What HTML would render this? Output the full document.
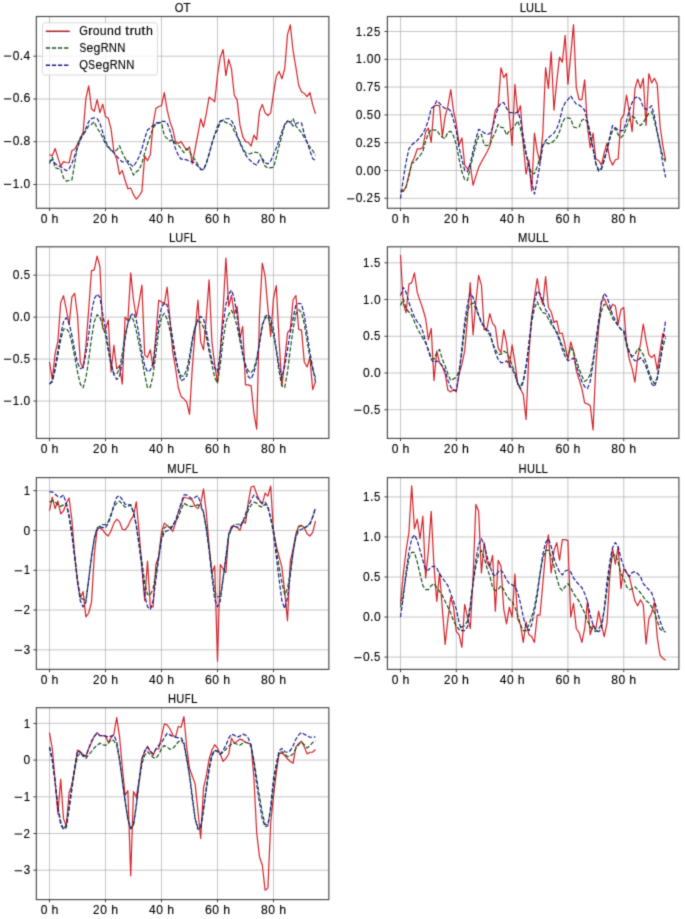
<!DOCTYPE html>
<html><head><meta charset="utf-8"><style>
html,body{margin:0;padding:0;background:#fff;}
svg{display:block;font-family:"Liberation Sans",sans-serif;}
.gr{stroke:#b8b8b8;stroke-width:0.8;}
.sp{fill:none;stroke:#484848;stroke-width:1.15;}
.tk{stroke:#404040;stroke-width:1.0;}
</style></head><body>
<svg width="685" height="919" viewBox="0 0 685 919">
<rect width="685" height="919" fill="#fff"/>
<defs><clipPath id="c0"><rect x="36.2" y="16.5" width="292.6" height="191.8"/></clipPath><clipPath id="c1"><rect x="387.25" y="16.5" width="291.6" height="191.8"/></clipPath><clipPath id="c2"><rect x="36.2" y="246.8" width="292.6" height="191.59999999999997"/></clipPath><clipPath id="c3"><rect x="387.25" y="246.8" width="291.6" height="191.59999999999997"/></clipPath><clipPath id="c4"><rect x="36.2" y="477.6" width="292.6" height="191.79999999999995"/></clipPath><clipPath id="c5"><rect x="387.25" y="477.6" width="291.6" height="191.79999999999995"/></clipPath><clipPath id="c6"><rect x="36.2" y="707.7" width="292.6" height="191.89999999999998"/></clipPath><filter id="bl" color-interpolation-filters="sRGB" x="0" y="0" width="685" height="919" filterUnits="userSpaceOnUse"><feConvolveMatrix order="3" kernelMatrix="0.02250 0.10500 0.02250 0.10500 0.49000 0.10500 0.02250 0.10500 0.02250" divisor="1" edgeMode="none"/></filter></defs>
<g filter="url(#bl)"><line x1="49.50" y1="16.5" x2="49.50" y2="208.3" class="gr"/><line x1="105.50" y1="16.5" x2="105.50" y2="208.3" class="gr"/><line x1="161.50" y1="16.5" x2="161.50" y2="208.3" class="gr"/><line x1="217.50" y1="16.5" x2="217.50" y2="208.3" class="gr"/><line x1="273.50" y1="16.5" x2="273.50" y2="208.3" class="gr"/><line x1="36.2" y1="56.20" x2="328.8" y2="56.20" class="gr"/><line x1="36.2" y1="99.00" x2="328.8" y2="99.00" class="gr"/><line x1="36.2" y1="141.70" x2="328.8" y2="141.70" class="gr"/><line x1="36.2" y1="184.50" x2="328.8" y2="184.50" class="gr"/><g clip-path="url(#c0)"><polyline points="49.50,154.67 52.30,155.72 55.10,148.54 57.90,157.68 60.70,166.16 63.50,161.59 66.30,162.51 69.10,162.90 71.90,150.50 74.70,149.19 77.50,143.97 80.30,138.75 83.10,132.22 85.90,98.28 88.70,85.87 91.50,108.72 94.30,111.33 97.10,99.58 99.90,112.64 102.70,104.15 105.50,116.55 108.30,118.29 111.10,129.39 113.90,151.58 116.70,159.41 119.50,174.43 122.30,170.51 125.10,180.30 127.90,188.79 130.70,188.13 133.50,194.66 136.30,199.23 139.10,195.97 141.90,191.40 144.70,156.15 147.50,160.72 150.30,154.84 153.10,124.16 155.90,108.50 158.70,106.54 161.50,105.69 164.30,92.64 167.10,109.61 169.90,121.36 172.70,129.19 175.50,141.59 178.30,143.55 181.10,141.59 183.90,146.16 186.70,150.08 189.50,146.81 192.30,163.79 195.10,148.77 197.90,134.41 200.70,118.75 203.50,127.23 206.30,113.52 209.10,97.21 211.90,99.16 214.70,101.78 217.50,75.03 220.30,57.40 223.10,49.57 225.90,75.68 228.70,59.36 231.50,69.15 234.30,95.26 237.10,99.83 239.90,124.63 242.70,136.38 245.50,141.61 248.30,142.26 251.10,146.17 253.90,135.08 256.70,139.65 259.50,111.58 262.30,104.40 265.10,112.89 267.90,115.50 270.70,112.89 273.50,93.41 276.30,76.28 279.10,71.39 281.90,78.73 284.70,68.94 287.50,34.68 290.30,24.89 293.10,51.00 295.90,67.31 298.70,85.25 301.50,91.78 304.30,93.41 307.10,96.67 309.90,92.59 312.70,104.83 315.50,113.80" fill="none" stroke="#d22228" stroke-width="1.2" stroke-linejoin="round"/><polyline points="49.50,163.55 52.30,157.02 55.10,167.47 57.90,168.77 60.70,168.77 63.50,177.91 66.30,181.17 69.10,180.52 71.90,179.87 74.70,163.55 77.50,145.27 80.30,137.44 83.10,134.83 85.90,130.91 88.70,125.69 91.50,124.39 94.30,121.78 97.10,128.30 99.90,132.22 102.70,137.44 105.50,143.97 108.30,147.66 111.10,150.27 113.90,151.58 116.70,150.27 119.50,145.70 122.30,152.89 125.10,158.11 127.90,163.33 130.70,168.55 133.50,175.08 136.30,171.81 139.10,169.86 141.90,163.33 144.70,152.89 147.50,143.75 150.30,135.91 153.10,128.08 155.90,124.16 158.70,122.86 161.50,122.66 164.30,135.72 167.10,138.33 169.90,140.94 172.70,139.63 175.50,143.55 178.30,144.86 181.10,148.77 183.90,152.69 186.70,148.77 189.50,151.38 192.30,156.61 195.10,159.87 197.90,164.44 200.70,169.01 203.50,169.66 206.30,163.79 209.10,153.99 211.90,143.55 214.70,135.07 217.50,125.94 220.30,120.72 223.10,120.72 225.90,122.68 228.70,123.33 231.50,125.29 234.30,131.16 237.10,136.38 239.90,141.61 242.70,148.13 245.50,152.70 248.30,154.01 251.10,153.36 253.90,152.05 256.70,152.48 259.50,153.07 262.30,159.78 265.10,166.20 267.90,167.96 270.70,167.66 273.50,167.37 276.30,157.45 279.10,145.77 281.90,135.84 284.70,125.22 287.50,121.14 290.30,122.77 293.10,118.69 295.90,126.04 298.70,129.30 301.50,132.56 304.30,137.46 307.10,142.35 309.90,147.24 312.70,150.51 315.50,155.40" fill="none" stroke="#125212" stroke-width="1.2" stroke-dasharray="4.25 1.85" stroke-linejoin="round"/><polyline points="49.50,160.94 52.30,159.63 55.10,163.55 57.90,165.51 60.70,166.81 63.50,168.77 66.30,170.73 69.10,168.77 71.90,163.55 74.70,155.72 77.50,147.89 80.30,140.05 83.10,134.83 85.90,128.30 88.70,121.78 91.50,118.51 94.30,117.86 97.10,118.51 99.90,123.08 102.70,132.22 105.50,141.36 108.30,146.36 111.10,150.27 113.90,152.89 116.70,156.15 119.50,159.41 122.30,162.02 125.10,161.37 127.90,160.72 130.70,164.63 133.50,166.59 136.30,162.02 139.10,156.80 141.90,148.97 144.70,138.52 147.50,130.04 150.30,128.08 153.10,125.47 155.90,122.86 158.70,122.86 161.50,121.36 164.30,121.36 167.10,122.66 169.90,130.50 172.70,139.63 175.50,148.77 178.30,155.30 181.10,159.22 183.90,159.22 186.70,159.87 189.50,161.17 192.30,161.83 195.10,163.13 197.90,166.40 200.70,169.66 203.50,169.66 206.30,163.13 209.10,153.99 211.90,143.55 214.70,134.41 217.50,129.86 220.30,122.02 223.10,120.07 225.90,118.76 228.70,118.76 231.50,120.72 234.30,125.29 237.10,135.08 239.90,142.91 242.70,149.44 245.50,154.66 248.30,158.58 251.10,161.19 253.90,163.80 256.70,165.04 259.50,159.78 262.30,158.61 265.10,162.70 267.90,163.87 270.70,160.95 273.50,154.53 276.30,148.10 279.10,140.51 281.90,131.75 284.70,124.40 287.50,121.14 290.30,121.96 293.10,126.04 295.90,123.59 298.70,122.77 301.50,122.77 304.30,134.19 307.10,142.35 309.90,150.51 312.70,158.66 315.50,160.29" fill="none" stroke="#1a1a90" stroke-width="1.2" stroke-dasharray="4.25 1.85" stroke-linejoin="round"/></g><rect x="36.35" y="16.5" width="292.50" height="191.8" class="sp"/><line x1="49.50" y1="208.3" x2="49.50" y2="211.10000000000002" class="tk"/><g font-size="12.0" fill="#000" stroke="#000" stroke-width="0.12"><text transform="translate(40.73 222.60) scale(1.001 1)">0</text><text transform="translate(51.50 222.60) scale(1.031 1)">h</text></g><line x1="105.50" y1="208.3" x2="105.50" y2="211.10000000000002" class="tk"/><g font-size="12.0" fill="#000" stroke="#000" stroke-width="0.12"><text transform="translate(93.07 222.60) scale(0.965 1)">2</text><text transform="translate(100.36 222.60) scale(1.001 1)">0</text><text transform="translate(111.13 222.60) scale(1.031 1)">h</text></g><line x1="161.50" y1="208.3" x2="161.50" y2="211.10000000000002" class="tk"/><g font-size="12.0" fill="#000" stroke="#000" stroke-width="0.12"><text transform="translate(149.10 222.60) scale(1.002 1)">4</text><text transform="translate(156.36 222.60) scale(1.001 1)">0</text><text transform="translate(167.13 222.60) scale(1.031 1)">h</text></g><line x1="217.50" y1="208.3" x2="217.50" y2="211.10000000000002" class="tk"/><g font-size="12.0" fill="#000" stroke="#000" stroke-width="0.12"><text transform="translate(204.99 222.60) scale(1.036 1)">6</text><text transform="translate(212.36 222.60) scale(1.001 1)">0</text><text transform="translate(223.13 222.60) scale(1.031 1)">h</text></g><line x1="273.50" y1="208.3" x2="273.50" y2="211.10000000000002" class="tk"/><g font-size="12.0" fill="#000" stroke="#000" stroke-width="0.12"><text transform="translate(261.07 222.60) scale(1.012 1)">8</text><text transform="translate(268.36 222.60) scale(1.001 1)">0</text><text transform="translate(279.13 222.60) scale(1.031 1)">h</text></g><line x1="33.400000000000006" y1="56.20" x2="36.2" y2="56.20" class="tk"/><g font-size="12.0" fill="#000" stroke="#000" stroke-width="0.12"><text transform="translate(12.65 59.65) scale(1.001 1)">0</text><text transform="translate(19.72 59.65) scale(1.028 1)">.</text><text transform="translate(23.53 59.65) scale(1.002 1)">4</text><rect x="4.03" y="55.63" width="7.14" height="0.9"/></g><line x1="33.400000000000006" y1="99.00" x2="36.2" y2="99.00" class="tk"/><g font-size="12.0" fill="#000" stroke="#000" stroke-width="0.12"><text transform="translate(12.65 102.45) scale(1.001 1)">0</text><text transform="translate(19.72 102.45) scale(1.028 1)">.</text><text transform="translate(23.41 102.45) scale(1.036 1)">6</text><rect x="4.03" y="98.43" width="7.14" height="0.9"/></g><line x1="33.400000000000006" y1="141.70" x2="36.2" y2="141.70" class="tk"/><g font-size="12.0" fill="#000" stroke="#000" stroke-width="0.12"><text transform="translate(12.65 145.15) scale(1.001 1)">0</text><text transform="translate(19.72 145.15) scale(1.028 1)">.</text><text transform="translate(23.49 145.15) scale(1.012 1)">8</text><rect x="4.03" y="141.13" width="7.14" height="0.9"/></g><line x1="33.400000000000006" y1="184.50" x2="36.2" y2="184.50" class="tk"/><g font-size="12.0" fill="#000" stroke="#000" stroke-width="0.12"><text transform="translate(12.75 187.95) scale(0.956 1)">1</text><text transform="translate(19.72 187.95) scale(1.028 1)">.</text><text transform="translate(23.53 187.95) scale(1.001 1)">0</text><rect x="4.03" y="183.93" width="7.14" height="0.9"/></g><g font-size="11.95" fill="#000" stroke="#000" stroke-width="0.12"><text transform="translate(174.74 11.50) scale(0.931 1)">O</text><text transform="translate(183.18 11.50) scale(1.027 1)">T</text></g><line x1="400.50" y1="16.5" x2="400.50" y2="208.3" class="gr"/><line x1="456.31" y1="16.5" x2="456.31" y2="208.3" class="gr"/><line x1="512.12" y1="16.5" x2="512.12" y2="208.3" class="gr"/><line x1="567.93" y1="16.5" x2="567.93" y2="208.3" class="gr"/><line x1="623.74" y1="16.5" x2="623.74" y2="208.3" class="gr"/><line x1="387.25" y1="31.50" x2="678.85" y2="31.50" class="gr"/><line x1="387.25" y1="59.30" x2="678.85" y2="59.30" class="gr"/><line x1="387.25" y1="87.10" x2="678.85" y2="87.10" class="gr"/><line x1="387.25" y1="114.90" x2="678.85" y2="114.90" class="gr"/><line x1="387.25" y1="142.70" x2="678.85" y2="142.70" class="gr"/><line x1="387.25" y1="170.50" x2="678.85" y2="170.50" class="gr"/><line x1="387.25" y1="198.30" x2="678.85" y2="198.30" class="gr"/><g clip-path="url(#c1)"><polyline points="400.50,191.40 403.29,191.40 406.09,186.83 408.88,175.08 411.67,163.33 414.46,157.45 417.25,148.97 420.04,148.97 422.83,147.66 425.62,132.00 428.41,128.08 431.20,142.44 433.99,105.89 436.78,105.23 439.57,105.89 442.36,136.57 445.15,116.33 447.94,105.89 450.73,89.57 453.52,111.11 456.31,123.69 459.10,144.93 461.89,137.85 464.68,164.74 467.47,168.99 470.27,164.74 473.06,185.27 475.85,176.07 478.64,167.57 481.43,161.91 484.22,156.96 487.01,152.00 489.80,146.34 492.59,126.53 495.38,110.25 498.17,106.71 500.96,67.78 503.75,77.69 506.54,73.45 509.33,116.62 512.12,145.30 514.91,84.37 517.70,113.31 520.49,105.70 523.28,145.30 526.07,174.24 528.86,159.77 531.65,191.00 534.45,133.12 537.24,151.39 540.03,162.06 542.82,133.12 545.61,67.58 548.40,88.40 551.19,51.75 553.98,110.27 556.77,81.16 559.56,57.18 562.35,62.15 565.14,35.46 567.93,84.33 570.72,54.91 573.51,24.60 576.30,87.49 579.09,99.60 581.88,99.60 584.67,79.80 587.46,127.02 590.25,147.59 593.04,133.12 595.83,159.01 598.63,160.53 601.42,165.10 604.21,152.92 607.00,143.02 609.79,159.01 612.58,165.10 615.37,159.77 618.16,159.01 620.95,119.41 623.74,114.84 626.53,95.03 629.32,111.79 632.11,131.59 634.90,88.94 637.69,79.04 640.48,88.18 643.27,78.28 646.06,125.50 648.85,73.71 651.64,82.85 654.43,78.28 657.22,84.37 660.01,125.50 662.81,145.30 665.60,159.77" fill="none" stroke="#d22228" stroke-width="1.2" stroke-linejoin="round"/><polyline points="400.50,190.74 403.29,190.74 406.09,186.83 408.88,176.38 411.67,163.33 414.46,162.02 417.25,158.76 420.04,155.50 422.83,151.58 425.62,141.14 428.41,133.30 431.20,129.39 433.99,130.04 436.78,130.04 439.57,134.61 442.36,137.22 445.15,138.52 447.94,132.00 450.73,131.34 453.52,135.91 456.31,144.93 459.10,159.08 461.89,171.82 464.68,179.60 467.47,180.31 470.27,167.57 473.06,156.25 475.85,144.93 478.64,136.43 481.43,134.31 484.22,144.93 487.01,145.63 489.80,144.93 492.59,137.85 495.38,132.19 498.17,124.40 500.96,127.23 503.75,127.94 506.54,135.02 509.33,130.77 512.12,129.31 514.91,125.50 517.70,120.93 520.49,128.55 523.28,140.73 526.07,154.44 528.86,165.10 531.65,174.24 534.45,173.48 537.24,166.63 540.03,157.49 542.82,145.30 545.61,142.25 548.40,143.78 551.19,143.02 553.98,140.73 556.77,137.68 559.56,131.59 562.35,122.45 565.14,117.88 567.93,117.88 570.72,118.64 573.51,127.02 576.30,127.78 579.09,127.02 581.88,120.17 584.67,118.64 587.46,122.45 590.25,136.16 593.04,148.35 595.83,163.58 598.63,169.67 601.42,169.67 604.21,159.01 607.00,149.87 609.79,139.21 612.58,130.07 615.37,128.55 618.16,134.64 620.95,137.68 623.74,134.64 626.53,127.02 629.32,119.41 632.11,116.36 634.90,117.88 637.69,123.98 640.48,125.50 643.27,122.45 646.06,117.88 648.85,113.31 651.64,111.79 654.43,120.93 657.22,133.12 660.01,145.30 662.81,155.96 665.60,162.06" fill="none" stroke="#125212" stroke-width="1.2" stroke-dasharray="4.25 1.85" stroke-linejoin="round"/><polyline points="400.50,198.58 403.29,178.99 406.09,162.02 408.88,148.97 411.67,145.05 414.46,142.44 417.25,140.48 420.04,137.22 422.83,133.30 425.62,128.08 428.41,120.25 431.20,108.50 433.99,106.54 436.78,100.67 439.57,103.28 442.36,106.54 445.15,108.50 447.94,108.50 450.73,111.11 453.52,120.25 456.31,130.77 459.10,147.76 461.89,159.08 464.68,170.40 467.47,171.82 470.27,164.03 473.06,150.59 475.85,139.26 478.64,129.36 481.43,130.77 484.22,132.89 487.01,134.31 489.80,133.60 492.59,127.94 495.38,116.62 498.17,107.42 500.96,103.17 503.75,102.46 506.54,108.12 509.33,112.37 512.12,112.55 514.91,113.31 517.70,111.79 520.49,119.41 523.28,136.16 526.07,152.92 528.86,166.63 531.65,181.86 534.45,194.04 537.24,180.34 540.03,163.58 542.82,145.30 545.61,140.73 548.40,137.68 551.19,135.40 553.98,133.12 556.77,128.55 559.56,120.93 562.35,108.74 565.14,102.65 567.93,99.60 570.72,95.80 573.51,100.37 576.30,104.17 579.09,104.94 581.88,107.22 584.67,110.27 587.46,120.93 590.25,133.12 593.04,148.35 595.83,163.58 598.63,171.20 601.42,168.15 604.21,160.53 607.00,149.87 609.79,136.16 612.58,125.50 615.37,127.78 618.16,130.07 620.95,130.83 623.74,130.07 626.53,120.93 629.32,110.27 632.11,102.65 634.90,98.08 637.69,96.56 640.48,99.60 643.27,107.22 646.06,109.50 648.85,108.74 651.64,105.70 654.43,116.36 657.22,131.59 660.01,145.30 662.81,163.58 665.60,177.29" fill="none" stroke="#1a1a90" stroke-width="1.2" stroke-dasharray="4.25 1.85" stroke-linejoin="round"/></g><rect x="387.40" y="16.5" width="291.50" height="191.8" class="sp"/><line x1="400.50" y1="208.3" x2="400.50" y2="211.10000000000002" class="tk"/><g font-size="12.0" fill="#000" stroke="#000" stroke-width="0.12"><text transform="translate(391.74 222.60) scale(1.001 1)">0</text><text transform="translate(402.51 222.60) scale(1.031 1)">h</text></g><line x1="456.31" y1="208.3" x2="456.31" y2="211.10000000000002" class="tk"/><g font-size="12.0" fill="#000" stroke="#000" stroke-width="0.12"><text transform="translate(443.89 222.60) scale(0.965 1)">2</text><text transform="translate(451.17 222.60) scale(1.001 1)">0</text><text transform="translate(461.94 222.60) scale(1.031 1)">h</text></g><line x1="512.12" y1="208.3" x2="512.12" y2="211.10000000000002" class="tk"/><g font-size="12.0" fill="#000" stroke="#000" stroke-width="0.12"><text transform="translate(499.73 222.60) scale(1.002 1)">4</text><text transform="translate(506.98 222.60) scale(1.001 1)">0</text><text transform="translate(517.75 222.60) scale(1.031 1)">h</text></g><line x1="567.93" y1="208.3" x2="567.93" y2="211.10000000000002" class="tk"/><g font-size="12.0" fill="#000" stroke="#000" stroke-width="0.12"><text transform="translate(555.42 222.60) scale(1.036 1)">6</text><text transform="translate(562.79 222.60) scale(1.001 1)">0</text><text transform="translate(573.56 222.60) scale(1.031 1)">h</text></g><line x1="623.74" y1="208.3" x2="623.74" y2="211.10000000000002" class="tk"/><g font-size="12.0" fill="#000" stroke="#000" stroke-width="0.12"><text transform="translate(611.31 222.60) scale(1.012 1)">8</text><text transform="translate(618.60 222.60) scale(1.001 1)">0</text><text transform="translate(629.37 222.60) scale(1.031 1)">h</text></g><line x1="384.45" y1="31.50" x2="387.25" y2="31.50" class="tk"/><g font-size="12.0" fill="#000" stroke="#000" stroke-width="0.12"><text transform="translate(355.85 35.60) scale(0.956 1)">1</text><text transform="translate(362.81 35.60) scale(1.028 1)">.</text><text transform="translate(366.60 35.60) scale(0.965 1)">2</text><text transform="translate(374.02 35.60) scale(0.945 1)">5</text></g><line x1="384.45" y1="59.30" x2="387.25" y2="59.30" class="tk"/><g font-size="12.0" fill="#000" stroke="#000" stroke-width="0.12"><text transform="translate(355.85 63.40) scale(0.956 1)">1</text><text transform="translate(362.81 63.40) scale(1.028 1)">.</text><text transform="translate(366.63 63.40) scale(1.001 1)">0</text><text transform="translate(373.88 63.40) scale(1.001 1)">0</text></g><line x1="384.45" y1="87.10" x2="387.25" y2="87.10" class="tk"/><g font-size="12.0" fill="#000" stroke="#000" stroke-width="0.12"><text transform="translate(355.75 91.20) scale(1.001 1)">0</text><text transform="translate(362.81 91.20) scale(1.028 1)">.</text><text transform="translate(366.68 91.20) scale(0.980 1)">7</text><text transform="translate(374.02 91.20) scale(0.945 1)">5</text></g><line x1="384.45" y1="114.90" x2="387.25" y2="114.90" class="tk"/><g font-size="12.0" fill="#000" stroke="#000" stroke-width="0.12"><text transform="translate(355.75 119.00) scale(1.001 1)">0</text><text transform="translate(362.81 119.00) scale(1.028 1)">.</text><text transform="translate(366.77 119.00) scale(0.945 1)">5</text><text transform="translate(373.88 119.00) scale(1.001 1)">0</text></g><line x1="384.45" y1="142.70" x2="387.25" y2="142.70" class="tk"/><g font-size="12.0" fill="#000" stroke="#000" stroke-width="0.12"><text transform="translate(355.75 146.80) scale(1.001 1)">0</text><text transform="translate(362.81 146.80) scale(1.028 1)">.</text><text transform="translate(366.60 146.80) scale(0.965 1)">2</text><text transform="translate(374.02 146.80) scale(0.945 1)">5</text></g><line x1="384.45" y1="170.50" x2="387.25" y2="170.50" class="tk"/><g font-size="12.0" fill="#000" stroke="#000" stroke-width="0.12"><text transform="translate(355.75 174.60) scale(1.001 1)">0</text><text transform="translate(362.81 174.60) scale(1.028 1)">.</text><text transform="translate(366.63 174.60) scale(1.001 1)">0</text><text transform="translate(373.88 174.60) scale(1.001 1)">0</text></g><line x1="384.45" y1="198.30" x2="387.25" y2="198.30" class="tk"/><g font-size="12.0" fill="#000" stroke="#000" stroke-width="0.12"><text transform="translate(355.75 202.40) scale(1.001 1)">0</text><text transform="translate(362.81 202.40) scale(1.028 1)">.</text><text transform="translate(366.60 202.40) scale(0.965 1)">2</text><text transform="translate(374.02 202.40) scale(0.945 1)">5</text><rect x="347.12" y="198.38" width="7.14" height="0.9"/></g><g font-size="11.95" fill="#000" stroke="#000" stroke-width="0.12"><text transform="translate(519.69 11.50) scale(0.969 1)">L</text><text transform="translate(525.92 11.50) scale(0.925 1)">U</text><text transform="translate(534.19 11.50) scale(0.969 1)">L</text><text transform="translate(540.46 11.50) scale(0.969 1)">L</text></g><line x1="49.50" y1="246.8" x2="49.50" y2="438.4" class="gr"/><line x1="105.50" y1="246.8" x2="105.50" y2="438.4" class="gr"/><line x1="161.50" y1="246.8" x2="161.50" y2="438.4" class="gr"/><line x1="217.50" y1="246.8" x2="217.50" y2="438.4" class="gr"/><line x1="273.50" y1="246.8" x2="273.50" y2="438.4" class="gr"/><line x1="36.2" y1="275.20" x2="328.8" y2="275.20" class="gr"/><line x1="36.2" y1="317.13" x2="328.8" y2="317.13" class="gr"/><line x1="36.2" y1="359.07" x2="328.8" y2="359.07" class="gr"/><line x1="36.2" y1="401.00" x2="328.8" y2="401.00" class="gr"/><g clip-path="url(#c2)"><polyline points="49.50,361.96 52.30,379.47 55.10,353.58 57.90,341.39 60.70,302.55 63.50,295.70 66.30,309.41 69.10,324.64 71.90,297.22 74.70,293.41 77.50,315.50 80.30,361.96 83.10,368.05 85.90,345.96 88.70,309.41 91.50,270.56 94.30,269.80 97.10,256.09 99.90,266.76 102.70,328.45 105.50,329.21 108.30,320.07 111.10,371.86 113.90,345.20 116.70,368.81 119.50,365.77 122.30,384.04 125.10,317.02 127.90,320.83 130.70,272.85 133.50,300.27 136.30,317.02 139.10,301.79 141.90,285.03 144.70,355.10 147.50,357.39 150.30,349.77 153.10,367.29 155.90,335.30 158.70,300.27 161.50,301.81 164.30,304.26 167.10,287.13 169.90,318.94 172.70,351.57 175.50,367.88 178.30,387.46 181.10,396.43 183.90,398.87 186.70,402.14 189.50,414.37 192.30,367.88 195.10,331.99 197.90,300.18 200.70,341.78 203.50,349.93 206.30,317.31 209.10,279.79 211.90,341.78 214.70,364.62 217.50,383.04 220.30,350.63 223.10,310.37 225.90,258.04 228.70,306.35 231.50,295.28 234.30,314.40 237.10,306.35 239.90,338.55 242.70,326.48 245.50,384.85 248.30,384.85 251.10,385.86 253.90,413.03 256.70,429.13 259.50,314.40 262.30,263.07 265.10,276.15 267.90,308.36 270.70,336.54 273.50,298.31 276.30,285.57 279.10,340.77 281.90,386.07 284.70,360.59 287.50,332.99 290.30,329.45 293.10,299.72 295.90,295.48 298.70,329.45 301.50,330.16 304.30,362.00 307.10,366.96 309.90,357.76 312.70,389.60 315.50,381.82" fill="none" stroke="#d22228" stroke-width="1.2" stroke-linejoin="round"/><polyline points="49.50,384.04 52.30,381.76 55.10,370.34 57.90,355.10 60.70,339.87 63.50,329.21 66.30,328.45 69.10,332.25 71.90,342.92 74.70,356.63 77.50,371.86 80.30,384.04 83.10,387.85 85.90,377.95 88.70,359.67 91.50,338.35 94.30,321.59 97.10,314.74 99.90,317.02 102.70,326.16 105.50,335.30 108.30,350.53 111.10,365.77 113.90,373.38 116.70,374.14 119.50,368.81 122.30,353.58 125.10,335.30 127.90,323.12 130.70,317.02 133.50,320.07 136.30,330.73 139.10,344.44 141.90,358.15 144.70,374.90 147.50,387.85 150.30,387.09 153.10,374.90 155.90,353.58 158.70,330.73 161.50,317.31 164.30,313.23 167.10,318.94 169.90,330.36 172.70,343.41 175.50,358.09 178.30,369.51 181.10,376.04 183.90,376.04 186.70,369.51 189.50,356.46 192.30,338.52 195.10,327.10 197.90,321.39 200.70,322.20 203.50,327.10 206.30,336.88 209.10,351.57 211.90,364.62 214.70,377.67 217.50,382.84 220.30,364.72 223.10,340.57 225.90,322.45 228.70,314.40 231.50,310.37 234.30,316.41 237.10,326.48 239.90,340.57 242.70,354.66 245.50,364.72 248.30,370.76 251.10,372.77 253.90,368.75 256.70,358.68 259.50,342.58 262.30,324.46 265.10,318.43 267.90,316.41 270.70,324.46 273.50,335.11 276.30,350.68 279.10,371.91 281.90,386.07 284.70,387.48 287.50,371.91 290.30,349.26 293.10,329.45 295.90,313.88 298.70,309.63 301.50,312.46 304.30,323.79 307.10,340.77 309.90,357.76 312.70,369.08 315.50,377.57" fill="none" stroke="#125212" stroke-width="1.2" stroke-dasharray="4.25 1.85" stroke-linejoin="round"/><polyline points="49.50,384.04 52.30,381.00 55.10,367.29 57.90,350.53 60.70,335.30 63.50,321.59 66.30,317.78 69.10,323.12 71.90,335.30 74.70,350.53 77.50,362.72 80.30,368.81 83.10,367.29 85.90,353.58 88.70,335.30 91.50,312.45 94.30,298.74 97.10,294.17 99.90,297.22 102.70,313.98 105.50,329.21 108.30,347.49 111.10,362.72 113.90,374.90 116.70,379.47 119.50,376.43 122.30,361.20 125.10,338.35 127.90,323.12 130.70,315.50 133.50,313.21 136.30,320.07 139.10,335.30 141.90,352.06 144.70,365.77 147.50,371.86 150.30,370.34 153.10,362.72 155.90,341.39 158.70,321.59 161.50,307.52 164.30,302.63 167.10,305.07 169.90,320.57 172.70,338.52 175.50,356.46 178.30,371.14 181.10,380.93 183.90,379.30 186.70,376.04 189.50,361.35 192.30,341.78 195.10,327.10 197.90,318.94 200.70,316.49 203.50,318.94 206.30,330.36 209.10,346.67 211.90,361.35 214.70,367.88 217.50,371.97 220.30,352.64 223.10,324.46 225.90,304.33 228.70,294.27 231.50,290.24 234.30,298.30 237.10,316.41 239.90,334.53 242.70,352.64 245.50,366.73 248.30,376.80 251.10,378.81 253.90,372.77 256.70,360.70 259.50,342.58 262.30,326.48 265.10,316.41 267.90,314.40 270.70,318.43 273.50,329.45 276.30,349.26 279.10,366.25 281.90,377.57 284.70,366.25 287.50,349.26 290.30,332.28 293.10,318.12 295.90,305.39 298.70,303.26 301.50,303.97 304.30,315.29 307.10,333.69 309.90,352.09 312.70,367.66 315.50,381.82" fill="none" stroke="#1a1a90" stroke-width="1.2" stroke-dasharray="4.25 1.85" stroke-linejoin="round"/></g><rect x="36.35" y="246.8" width="292.50" height="191.59999999999997" class="sp"/><line x1="49.50" y1="438.4" x2="49.50" y2="441.2" class="tk"/><g font-size="12.0" fill="#000" stroke="#000" stroke-width="0.12"><text transform="translate(40.73 452.70) scale(1.001 1)">0</text><text transform="translate(51.50 452.70) scale(1.031 1)">h</text></g><line x1="105.50" y1="438.4" x2="105.50" y2="441.2" class="tk"/><g font-size="12.0" fill="#000" stroke="#000" stroke-width="0.12"><text transform="translate(93.07 452.70) scale(0.965 1)">2</text><text transform="translate(100.36 452.70) scale(1.001 1)">0</text><text transform="translate(111.13 452.70) scale(1.031 1)">h</text></g><line x1="161.50" y1="438.4" x2="161.50" y2="441.2" class="tk"/><g font-size="12.0" fill="#000" stroke="#000" stroke-width="0.12"><text transform="translate(149.10 452.70) scale(1.002 1)">4</text><text transform="translate(156.36 452.70) scale(1.001 1)">0</text><text transform="translate(167.13 452.70) scale(1.031 1)">h</text></g><line x1="217.50" y1="438.4" x2="217.50" y2="441.2" class="tk"/><g font-size="12.0" fill="#000" stroke="#000" stroke-width="0.12"><text transform="translate(204.99 452.70) scale(1.036 1)">6</text><text transform="translate(212.36 452.70) scale(1.001 1)">0</text><text transform="translate(223.13 452.70) scale(1.031 1)">h</text></g><line x1="273.50" y1="438.4" x2="273.50" y2="441.2" class="tk"/><g font-size="12.0" fill="#000" stroke="#000" stroke-width="0.12"><text transform="translate(261.07 452.70) scale(1.012 1)">8</text><text transform="translate(268.36 452.70) scale(1.001 1)">0</text><text transform="translate(279.13 452.70) scale(1.031 1)">h</text></g><line x1="33.400000000000006" y1="275.20" x2="36.2" y2="275.20" class="tk"/><g font-size="12.0" fill="#000" stroke="#000" stroke-width="0.12"><text transform="translate(12.65 278.95) scale(1.001 1)">0</text><text transform="translate(19.72 278.95) scale(1.028 1)">.</text><text transform="translate(23.67 278.95) scale(0.945 1)">5</text></g><line x1="33.400000000000006" y1="317.13" x2="36.2" y2="317.13" class="tk"/><g font-size="12.0" fill="#000" stroke="#000" stroke-width="0.12"><text transform="translate(12.65 320.88) scale(1.001 1)">0</text><text transform="translate(19.72 320.88) scale(1.028 1)">.</text><text transform="translate(23.53 320.88) scale(1.001 1)">0</text></g><line x1="33.400000000000006" y1="359.07" x2="36.2" y2="359.07" class="tk"/><g font-size="12.0" fill="#000" stroke="#000" stroke-width="0.12"><text transform="translate(12.65 362.82) scale(1.001 1)">0</text><text transform="translate(19.72 362.82) scale(1.028 1)">.</text><text transform="translate(23.67 362.82) scale(0.945 1)">5</text><rect x="4.03" y="358.80" width="7.14" height="0.9"/></g><line x1="33.400000000000006" y1="401.00" x2="36.2" y2="401.00" class="tk"/><g font-size="12.0" fill="#000" stroke="#000" stroke-width="0.12"><text transform="translate(12.75 404.75) scale(0.956 1)">1</text><text transform="translate(19.72 404.75) scale(1.028 1)">.</text><text transform="translate(23.53 404.75) scale(1.001 1)">0</text><rect x="4.03" y="400.73" width="7.14" height="0.9"/></g><g font-size="11.95" fill="#000" stroke="#000" stroke-width="0.12"><text transform="translate(169.03 241.80) scale(0.969 1)">L</text><text transform="translate(175.27 241.80) scale(0.925 1)">U</text><text transform="translate(183.69 241.80) scale(0.807 1)">F</text><text transform="translate(190.01 241.80) scale(0.969 1)">L</text></g><line x1="400.50" y1="246.8" x2="400.50" y2="438.4" class="gr"/><line x1="456.31" y1="246.8" x2="456.31" y2="438.4" class="gr"/><line x1="512.12" y1="246.8" x2="512.12" y2="438.4" class="gr"/><line x1="567.93" y1="246.8" x2="567.93" y2="438.4" class="gr"/><line x1="623.74" y1="246.8" x2="623.74" y2="438.4" class="gr"/><line x1="387.25" y1="262.80" x2="678.85" y2="262.80" class="gr"/><line x1="387.25" y1="299.53" x2="678.85" y2="299.53" class="gr"/><line x1="387.25" y1="336.25" x2="678.85" y2="336.25" class="gr"/><line x1="387.25" y1="372.98" x2="678.85" y2="372.98" class="gr"/><line x1="387.25" y1="409.70" x2="678.85" y2="409.70" class="gr"/><g clip-path="url(#c3)"><polyline points="400.50,254.89 403.29,303.83 406.09,312.81 408.88,284.26 411.67,282.63 414.46,272.84 417.25,292.41 420.04,300.57 422.83,308.73 425.62,318.52 428.41,339.72 431.20,328.30 433.99,380.51 436.78,351.14 439.57,362.56 442.36,366.64 445.15,373.98 447.94,390.29 450.73,391.92 453.52,389.48 456.31,391.92 459.10,373.98 461.89,364.19 464.68,351.14 467.47,318.52 470.27,282.63 473.06,334.83 475.85,302.20 478.64,275.29 481.43,285.07 484.22,329.93 487.01,328.30 489.80,313.62 492.59,323.41 495.38,326.67 498.17,347.88 500.96,352.77 503.75,329.93 506.54,342.99 509.33,367.46 512.12,344.96 514.91,362.04 517.70,383.60 520.49,388.99 523.28,394.38 526.07,419.54 528.86,354.85 531.65,317.11 534.45,297.35 537.24,278.48 540.03,295.55 542.82,304.53 545.61,276.68 548.40,307.23 551.19,311.72 553.98,322.50 556.77,320.71 559.56,333.28 562.35,333.28 565.14,345.86 567.93,359.85 570.72,341.88 573.51,350.86 576.30,370.63 579.09,379.61 581.88,388.60 584.67,402.97 587.46,403.87 590.25,405.67 593.04,429.93 595.83,365.24 598.63,327.50 601.42,301.45 604.21,298.75 607.00,305.04 609.79,310.43 612.58,304.14 615.37,305.94 618.16,323.91 620.95,309.53 623.74,307.42 626.53,343.98 629.32,359.21 632.11,368.35 634.90,382.06 637.69,357.68 640.48,343.98 643.27,324.17 646.06,340.93 648.85,354.64 651.64,357.68 654.43,354.64 657.22,369.87 660.01,351.59 662.81,333.31 665.60,337.12" fill="none" stroke="#d22228" stroke-width="1.2" stroke-linejoin="round"/><polyline points="400.50,305.46 403.29,298.94 406.09,308.73 408.88,311.99 411.67,315.25 414.46,321.78 417.25,328.30 420.04,333.20 422.83,338.09 425.62,342.99 428.41,349.51 431.20,357.67 433.99,359.30 436.78,352.77 439.57,349.51 442.36,359.30 445.15,365.82 447.94,373.98 450.73,380.51 453.52,378.87 456.31,377.24 459.10,370.72 461.89,352.77 464.68,328.30 467.47,310.36 470.27,304.65 473.06,303.02 475.85,308.73 478.64,315.25 481.43,321.78 484.22,326.67 487.01,331.57 489.80,334.83 492.59,342.99 495.38,349.51 498.17,354.40 500.96,354.40 503.75,351.14 506.54,352.77 509.33,357.67 512.12,365.63 514.91,372.82 517.70,383.60 520.49,387.19 523.28,380.00 526.07,365.63 528.86,345.86 531.65,322.50 534.45,308.13 537.24,301.84 540.03,308.13 542.82,312.62 545.61,313.52 548.40,318.91 551.19,324.30 553.98,327.89 556.77,331.49 559.56,338.67 562.35,345.86 565.14,353.05 567.93,356.25 570.72,347.27 573.51,352.66 576.30,359.85 579.09,368.83 581.88,376.02 584.67,381.41 587.46,379.61 590.25,374.22 593.04,359.85 595.83,341.88 598.63,323.91 601.42,311.33 604.21,304.14 607.00,305.94 609.79,311.33 612.58,318.52 615.37,322.11 618.16,325.71 620.95,329.30 623.74,331.79 626.53,345.50 629.32,353.12 632.11,356.16 634.90,354.64 637.69,348.55 640.48,350.07 643.27,354.64 646.06,362.25 648.85,371.39 651.64,379.01 654.43,383.58 657.22,377.49 660.01,362.25 662.81,347.02 665.60,337.88" fill="none" stroke="#125212" stroke-width="1.2" stroke-dasharray="4.25 1.85" stroke-linejoin="round"/><polyline points="400.50,295.68 403.29,287.52 406.09,292.41 408.88,302.20 411.67,310.36 414.46,316.88 417.25,321.78 420.04,325.04 422.83,331.57 425.62,341.35 428.41,351.14 431.20,359.30 433.99,362.56 436.78,360.93 439.57,362.56 442.36,365.82 445.15,370.72 447.94,380.51 450.73,387.03 453.52,390.29 456.31,390.29 459.10,373.98 461.89,347.88 464.68,321.78 467.47,303.83 470.27,293.23 473.06,297.31 475.85,305.46 478.64,315.25 481.43,323.41 484.22,326.67 487.01,329.93 489.80,331.57 492.59,342.99 495.38,352.77 498.17,359.30 500.96,362.56 503.75,362.56 506.54,360.93 509.33,364.19 512.12,369.22 514.91,374.61 517.70,383.60 520.49,388.99 523.28,381.80 526.07,367.43 528.86,344.07 531.65,318.91 534.45,300.94 537.24,291.06 540.03,293.75 542.82,300.94 545.61,309.92 548.40,313.52 551.19,320.71 553.98,327.89 556.77,333.28 559.56,340.47 562.35,349.46 565.14,356.64 567.93,360.75 570.72,359.85 573.51,358.05 576.30,365.24 579.09,374.22 581.88,381.41 584.67,386.80 587.46,388.60 590.25,381.41 593.04,363.44 595.83,341.88 598.63,320.31 601.42,302.35 604.21,293.36 607.00,296.95 609.79,305.94 612.58,314.92 615.37,320.31 618.16,325.71 620.95,329.30 623.74,330.27 626.53,342.45 629.32,351.59 632.11,357.68 634.90,360.73 637.69,360.73 640.48,357.68 643.27,360.73 646.06,366.82 648.85,374.44 651.64,383.58 654.43,386.63 657.22,379.01 660.01,362.25 662.81,340.93 665.60,320.37" fill="none" stroke="#1a1a90" stroke-width="1.2" stroke-dasharray="4.25 1.85" stroke-linejoin="round"/></g><rect x="387.40" y="246.8" width="291.50" height="191.59999999999997" class="sp"/><line x1="400.50" y1="438.4" x2="400.50" y2="441.2" class="tk"/><g font-size="12.0" fill="#000" stroke="#000" stroke-width="0.12"><text transform="translate(391.74 452.70) scale(1.001 1)">0</text><text transform="translate(402.51 452.70) scale(1.031 1)">h</text></g><line x1="456.31" y1="438.4" x2="456.31" y2="441.2" class="tk"/><g font-size="12.0" fill="#000" stroke="#000" stroke-width="0.12"><text transform="translate(443.89 452.70) scale(0.965 1)">2</text><text transform="translate(451.17 452.70) scale(1.001 1)">0</text><text transform="translate(461.94 452.70) scale(1.031 1)">h</text></g><line x1="512.12" y1="438.4" x2="512.12" y2="441.2" class="tk"/><g font-size="12.0" fill="#000" stroke="#000" stroke-width="0.12"><text transform="translate(499.73 452.70) scale(1.002 1)">4</text><text transform="translate(506.98 452.70) scale(1.001 1)">0</text><text transform="translate(517.75 452.70) scale(1.031 1)">h</text></g><line x1="567.93" y1="438.4" x2="567.93" y2="441.2" class="tk"/><g font-size="12.0" fill="#000" stroke="#000" stroke-width="0.12"><text transform="translate(555.42 452.70) scale(1.036 1)">6</text><text transform="translate(562.79 452.70) scale(1.001 1)">0</text><text transform="translate(573.56 452.70) scale(1.031 1)">h</text></g><line x1="623.74" y1="438.4" x2="623.74" y2="441.2" class="tk"/><g font-size="12.0" fill="#000" stroke="#000" stroke-width="0.12"><text transform="translate(611.31 452.70) scale(1.012 1)">8</text><text transform="translate(618.60 452.70) scale(1.001 1)">0</text><text transform="translate(629.37 452.70) scale(1.031 1)">h</text></g><line x1="384.45" y1="262.80" x2="387.25" y2="262.80" class="tk"/><g font-size="12.0" fill="#000" stroke="#000" stroke-width="0.12"><text transform="translate(363.10 266.90) scale(0.956 1)">1</text><text transform="translate(370.07 266.90) scale(1.028 1)">.</text><text transform="translate(374.02 266.90) scale(0.945 1)">5</text></g><line x1="384.45" y1="299.53" x2="387.25" y2="299.53" class="tk"/><g font-size="12.0" fill="#000" stroke="#000" stroke-width="0.12"><text transform="translate(363.10 303.63) scale(0.956 1)">1</text><text transform="translate(370.07 303.63) scale(1.028 1)">.</text><text transform="translate(373.88 303.63) scale(1.001 1)">0</text></g><line x1="384.45" y1="336.25" x2="387.25" y2="336.25" class="tk"/><g font-size="12.0" fill="#000" stroke="#000" stroke-width="0.12"><text transform="translate(363.00 340.35) scale(1.001 1)">0</text><text transform="translate(370.07 340.35) scale(1.028 1)">.</text><text transform="translate(374.02 340.35) scale(0.945 1)">5</text></g><line x1="384.45" y1="372.98" x2="387.25" y2="372.98" class="tk"/><g font-size="12.0" fill="#000" stroke="#000" stroke-width="0.12"><text transform="translate(363.00 377.08) scale(1.001 1)">0</text><text transform="translate(370.07 377.08) scale(1.028 1)">.</text><text transform="translate(373.88 377.08) scale(1.001 1)">0</text></g><line x1="384.45" y1="409.70" x2="387.25" y2="409.70" class="tk"/><g font-size="12.0" fill="#000" stroke="#000" stroke-width="0.12"><text transform="translate(363.00 413.80) scale(1.001 1)">0</text><text transform="translate(370.07 413.80) scale(1.028 1)">.</text><text transform="translate(374.02 413.80) scale(0.945 1)">5</text><rect x="354.38" y="409.78" width="7.14" height="0.9"/></g><g font-size="11.95" fill="#000" stroke="#000" stroke-width="0.12"><text transform="translate(518.00 241.80) scale(0.939 1)">M</text><text transform="translate(527.64 241.80) scale(0.925 1)">U</text><text transform="translate(535.91 241.80) scale(0.969 1)">L</text><text transform="translate(542.18 241.80) scale(0.969 1)">L</text></g><line x1="49.50" y1="477.6" x2="49.50" y2="669.4" class="gr"/><line x1="105.50" y1="477.6" x2="105.50" y2="669.4" class="gr"/><line x1="161.50" y1="477.6" x2="161.50" y2="669.4" class="gr"/><line x1="217.50" y1="477.6" x2="217.50" y2="669.4" class="gr"/><line x1="273.50" y1="477.6" x2="273.50" y2="669.4" class="gr"/><line x1="36.2" y1="490.70" x2="328.8" y2="490.70" class="gr"/><line x1="36.2" y1="530.48" x2="328.8" y2="530.48" class="gr"/><line x1="36.2" y1="570.26" x2="328.8" y2="570.26" class="gr"/><line x1="36.2" y1="610.04" x2="328.8" y2="610.04" class="gr"/><line x1="36.2" y1="649.82" x2="328.8" y2="649.82" class="gr"/><g clip-path="url(#c4)"><polyline points="49.50,510.94 52.30,497.23 55.10,508.66 57.90,501.04 60.70,513.99 63.50,510.94 66.30,503.33 69.10,497.99 71.90,520.08 74.70,555.12 77.50,582.53 80.30,597.77 83.10,591.67 85.90,616.81 88.70,613.00 91.50,602.34 94.30,555.12 97.10,529.22 99.90,527.70 102.70,529.98 105.50,533.79 108.30,536.07 111.10,530.74 113.90,523.13 116.70,519.32 119.50,521.60 122.30,529.22 125.10,529.98 127.90,526.17 130.70,520.08 133.50,515.51 136.30,501.80 139.10,532.27 141.90,567.30 144.70,600.81 147.50,561.21 150.30,606.90 153.10,606.90 155.90,564.25 158.70,556.64 161.50,532.27 164.30,523.13 167.10,525.41 169.90,527.70 172.70,531.50 175.50,523.13 178.30,512.46 181.10,504.85 183.90,497.23 186.70,497.99 189.50,498.76 192.30,500.28 195.10,506.37 197.90,508.66 200.70,503.33 203.50,488.85 206.30,512.46 209.10,545.98 211.90,573.39 214.70,565.78 217.50,661.15 220.30,564.53 223.10,568.55 225.90,572.58 228.70,534.33 231.50,526.28 234.30,526.28 237.10,527.29 239.90,530.31 242.70,521.25 245.50,523.26 248.30,502.13 251.10,487.03 253.90,486.03 256.70,494.08 259.50,500.12 262.30,504.14 265.10,493.07 267.90,496.09 270.70,486.03 273.50,532.27 276.30,545.98 279.10,556.64 281.90,567.30 284.70,591.67 287.50,620.61 290.30,561.21 293.10,549.02 295.90,533.79 298.70,526.17 301.50,525.41 304.30,527.70 307.10,533.79 309.90,536.07 312.70,532.27 315.50,520.84" fill="none" stroke="#d22228" stroke-width="1.2" stroke-linejoin="round"/><polyline points="49.50,501.80 52.30,501.04 55.10,501.80 57.90,504.85 60.70,506.37 63.50,504.85 66.30,503.33 69.10,515.51 71.90,532.27 74.70,555.12 77.50,579.49 80.30,597.77 83.10,599.29 85.90,600.81 88.70,579.49 91.50,556.64 94.30,538.36 97.10,527.70 99.90,526.17 102.70,524.65 105.50,524.65 108.30,521.60 111.10,513.99 113.90,506.37 116.70,503.33 119.50,501.04 122.30,504.09 125.10,507.13 127.90,506.37 130.70,504.85 133.50,512.46 136.30,524.65 139.10,542.93 141.90,561.21 144.70,582.53 147.50,594.72 150.30,594.72 153.10,588.63 155.90,573.39 158.70,556.64 161.50,536.84 164.30,527.70 167.10,526.17 169.90,527.70 172.70,525.41 175.50,521.60 178.30,517.03 181.10,509.42 183.90,503.33 186.70,504.85 189.50,506.37 192.30,506.37 195.10,505.61 197.90,504.85 200.70,506.37 203.50,512.46 206.30,527.70 209.10,547.50 211.90,571.87 214.70,591.67 217.50,596.73 220.30,596.73 223.10,578.62 225.90,558.49 228.70,536.35 231.50,528.30 234.30,524.27 237.10,524.27 239.90,524.27 242.70,522.26 245.50,518.23 248.30,510.18 251.10,505.15 253.90,502.13 256.70,503.14 259.50,506.15 262.30,507.16 265.10,504.14 267.90,508.17 270.70,518.23 273.50,529.22 276.30,549.02 279.10,567.30 281.90,582.53 284.70,594.72 287.50,588.63 290.30,571.87 293.10,552.07 295.90,535.31 298.70,526.94 301.50,525.41 304.30,527.70 307.10,526.17 309.90,523.13 312.70,517.03 315.50,508.66" fill="none" stroke="#125212" stroke-width="1.2" stroke-dasharray="4.25 1.85" stroke-linejoin="round"/><polyline points="49.50,491.90 52.30,491.90 55.10,494.19 57.90,496.47 60.70,497.23 63.50,494.95 66.30,503.33 69.10,517.03 71.90,535.31 74.70,558.16 77.50,581.01 80.30,600.81 83.10,606.90 85.90,602.34 88.70,579.49 91.50,556.64 94.30,538.36 97.10,529.22 99.90,526.94 102.70,527.70 105.50,527.70 108.30,523.13 111.10,515.51 113.90,504.85 116.70,497.23 119.50,495.71 122.30,499.52 125.10,504.09 127.90,504.85 130.70,504.85 133.50,512.46 136.30,526.17 139.10,545.98 141.90,567.30 144.70,594.72 147.50,606.90 150.30,609.19 153.10,600.81 155.90,579.49 158.70,558.16 161.50,539.88 164.30,532.27 167.10,530.74 169.90,529.98 172.70,526.17 175.50,520.08 178.30,512.46 181.10,503.33 183.90,494.95 186.70,494.95 189.50,497.23 192.30,498.76 195.10,497.23 197.90,495.71 200.70,503.33 203.50,512.46 206.30,529.22 209.10,550.55 211.90,576.44 214.70,599.29 217.50,606.80 220.30,600.76 223.10,578.62 225.90,556.48 228.70,534.33 231.50,528.30 234.30,526.28 237.10,527.29 239.90,526.28 242.70,522.26 245.50,514.21 248.30,506.15 251.10,500.12 253.90,495.08 256.70,497.10 259.50,501.12 262.30,503.14 265.10,502.13 267.90,506.15 270.70,518.23 273.50,533.79 276.30,556.64 279.10,579.49 281.90,600.81 284.70,608.43 287.50,597.77 290.30,574.92 293.10,552.07 295.90,536.84 298.70,530.74 301.50,529.22 304.30,528.46 307.10,526.17 309.90,524.65 312.70,517.03 315.50,507.13" fill="none" stroke="#1a1a90" stroke-width="1.2" stroke-dasharray="4.25 1.85" stroke-linejoin="round"/></g><rect x="36.35" y="477.6" width="292.50" height="191.79999999999995" class="sp"/><line x1="49.50" y1="669.4" x2="49.50" y2="672.1999999999999" class="tk"/><g font-size="12.0" fill="#000" stroke="#000" stroke-width="0.12"><text transform="translate(40.73 683.70) scale(1.001 1)">0</text><text transform="translate(51.50 683.70) scale(1.031 1)">h</text></g><line x1="105.50" y1="669.4" x2="105.50" y2="672.1999999999999" class="tk"/><g font-size="12.0" fill="#000" stroke="#000" stroke-width="0.12"><text transform="translate(93.07 683.70) scale(0.965 1)">2</text><text transform="translate(100.36 683.70) scale(1.001 1)">0</text><text transform="translate(111.13 683.70) scale(1.031 1)">h</text></g><line x1="161.50" y1="669.4" x2="161.50" y2="672.1999999999999" class="tk"/><g font-size="12.0" fill="#000" stroke="#000" stroke-width="0.12"><text transform="translate(149.10 683.70) scale(1.002 1)">4</text><text transform="translate(156.36 683.70) scale(1.001 1)">0</text><text transform="translate(167.13 683.70) scale(1.031 1)">h</text></g><line x1="217.50" y1="669.4" x2="217.50" y2="672.1999999999999" class="tk"/><g font-size="12.0" fill="#000" stroke="#000" stroke-width="0.12"><text transform="translate(204.99 683.70) scale(1.036 1)">6</text><text transform="translate(212.36 683.70) scale(1.001 1)">0</text><text transform="translate(223.13 683.70) scale(1.031 1)">h</text></g><line x1="273.50" y1="669.4" x2="273.50" y2="672.1999999999999" class="tk"/><g font-size="12.0" fill="#000" stroke="#000" stroke-width="0.12"><text transform="translate(261.07 683.70) scale(1.012 1)">8</text><text transform="translate(268.36 683.70) scale(1.001 1)">0</text><text transform="translate(279.13 683.70) scale(1.031 1)">h</text></g><line x1="33.400000000000006" y1="490.70" x2="36.2" y2="490.70" class="tk"/><g font-size="12.0" fill="#000" stroke="#000" stroke-width="0.12"><text transform="translate(23.63 494.80) scale(0.956 1)">1</text></g><line x1="33.400000000000006" y1="530.48" x2="36.2" y2="530.48" class="tk"/><g font-size="12.0" fill="#000" stroke="#000" stroke-width="0.12"><text transform="translate(23.53 534.58) scale(1.001 1)">0</text></g><line x1="33.400000000000006" y1="570.26" x2="36.2" y2="570.26" class="tk"/><g font-size="12.0" fill="#000" stroke="#000" stroke-width="0.12"><text transform="translate(23.63 574.36) scale(0.956 1)">1</text><rect x="14.90" y="570.34" width="7.14" height="0.9"/></g><line x1="33.400000000000006" y1="610.04" x2="36.2" y2="610.04" class="tk"/><g font-size="12.0" fill="#000" stroke="#000" stroke-width="0.12"><text transform="translate(23.50 614.14) scale(0.965 1)">2</text><rect x="14.90" y="610.12" width="7.14" height="0.9"/></g><line x1="33.400000000000006" y1="649.82" x2="36.2" y2="649.82" class="tk"/><g font-size="12.0" fill="#000" stroke="#000" stroke-width="0.12"><text transform="translate(23.68 653.92) scale(0.962 1)">3</text><rect x="14.90" y="649.90" width="7.14" height="0.9"/></g><g font-size="11.95" fill="#000" stroke="#000" stroke-width="0.12"><text transform="translate(167.34 472.60) scale(0.939 1)">M</text><text transform="translate(176.99 472.60) scale(0.925 1)">U</text><text transform="translate(185.41 472.60) scale(0.807 1)">F</text><text transform="translate(191.73 472.60) scale(0.969 1)">L</text></g><line x1="400.50" y1="477.6" x2="400.50" y2="669.4" class="gr"/><line x1="456.31" y1="477.6" x2="456.31" y2="669.4" class="gr"/><line x1="512.12" y1="477.6" x2="512.12" y2="669.4" class="gr"/><line x1="567.93" y1="477.6" x2="567.93" y2="669.4" class="gr"/><line x1="623.74" y1="477.6" x2="623.74" y2="669.4" class="gr"/><line x1="387.25" y1="496.90" x2="678.85" y2="496.90" class="gr"/><line x1="387.25" y1="536.95" x2="678.85" y2="536.95" class="gr"/><line x1="387.25" y1="577.00" x2="678.85" y2="577.00" class="gr"/><line x1="387.25" y1="617.05" x2="678.85" y2="617.05" class="gr"/><line x1="387.25" y1="657.10" x2="678.85" y2="657.10" class="gr"/><g clip-path="url(#c5)"><polyline points="400.50,603.29 403.29,573.93 406.09,550.45 408.88,532.84 411.67,485.87 414.46,528.92 417.25,519.14 420.04,538.71 422.83,516.20 425.62,577.85 428.41,550.45 431.20,511.31 433.99,566.11 436.78,601.33 439.57,572.95 442.36,609.16 445.15,644.38 447.94,618.94 450.73,597.42 453.52,607.20 456.31,631.66 459.10,634.60 461.89,647.32 464.68,604.27 467.47,616.99 470.27,628.73 473.06,577.85 475.85,504.46 478.64,511.31 481.43,572.95 484.22,542.62 487.01,562.19 489.80,567.08 492.59,555.34 495.38,611.12 498.17,560.23 500.96,566.11 503.75,609.16 506.54,623.84 509.33,607.20 512.12,616.99 514.91,573.93 517.70,618.94 520.49,624.81 523.28,642.43 526.07,621.88 528.86,634.60 531.65,636.56 534.45,642.43 537.24,615.03 540.03,615.03 542.82,583.72 545.61,552.41 548.40,534.79 551.19,572.95 553.98,550.45 556.77,542.62 559.56,560.23 562.35,539.69 565.14,539.69 567.93,540.67 570.72,616.99 573.51,603.29 576.30,628.73 579.09,632.64 581.88,642.43 584.67,628.73 587.46,601.33 590.25,634.60 593.04,624.81 595.83,628.73 598.63,611.12 601.42,624.81 604.21,636.56 607.00,622.86 609.79,575.89 612.58,548.49 615.37,564.15 618.16,546.54 620.95,588.61 623.74,568.57 626.53,572.59 629.32,576.62 632.11,588.70 634.90,600.77 637.69,605.81 640.48,599.77 643.27,604.80 646.06,644.05 648.85,618.89 651.64,612.85 654.43,601.78 657.22,637.00 660.01,655.12 662.81,658.14 665.60,660.15" fill="none" stroke="#d22228" stroke-width="1.2" stroke-linejoin="round"/><polyline points="400.50,607.20 403.29,593.50 406.09,575.89 408.88,558.28 411.67,552.41 414.46,552.41 417.25,562.19 420.04,573.93 422.83,585.68 425.62,589.59 428.41,589.59 431.20,585.68 433.99,583.72 436.78,587.63 439.57,591.55 442.36,595.46 445.15,601.33 447.94,607.20 450.73,613.07 453.52,620.90 456.31,625.79 459.10,629.71 461.89,626.77 464.68,625.79 467.47,620.90 470.27,605.24 473.06,583.72 475.85,566.11 478.64,554.36 481.43,550.45 484.22,558.28 487.01,568.06 489.80,575.89 492.59,587.63 495.38,590.57 498.17,589.59 500.96,585.68 503.75,589.59 506.54,595.46 509.33,599.37 512.12,601.33 514.91,607.20 517.70,615.03 520.49,624.81 523.28,630.68 526.07,630.68 528.86,624.81 531.65,616.99 534.45,607.20 537.24,591.55 540.03,573.93 542.82,558.28 545.61,550.45 548.40,550.45 551.19,556.32 553.98,566.11 556.77,577.85 559.56,587.63 562.35,590.57 565.14,586.65 567.93,583.72 570.72,587.63 573.51,593.50 576.30,597.42 579.09,601.33 581.88,607.20 584.67,613.07 587.46,620.90 590.25,626.77 593.04,629.71 595.83,631.66 598.63,628.73 601.42,624.81 604.21,611.12 607.00,589.59 609.79,568.06 612.58,556.32 615.37,554.36 618.16,562.19 620.95,573.93 623.74,578.63 626.53,586.68 629.32,589.70 632.11,588.70 634.90,586.68 637.69,589.70 640.48,592.72 643.27,596.75 646.06,600.77 648.85,602.79 651.64,606.81 654.43,612.85 657.22,620.90 660.01,628.95 662.81,630.97 665.60,631.97" fill="none" stroke="#125212" stroke-width="1.2" stroke-dasharray="4.25 1.85" stroke-linejoin="round"/><polyline points="400.50,616.99 403.29,597.42 406.09,571.98 408.88,552.41 411.67,538.71 414.46,534.79 417.25,540.67 420.04,550.45 422.83,560.23 425.62,570.02 428.41,570.02 431.20,567.08 433.99,566.11 436.78,568.06 439.57,573.93 442.36,577.85 445.15,581.76 447.94,585.68 450.73,593.50 453.52,601.33 456.31,609.16 459.10,622.86 461.89,630.68 464.68,630.68 467.47,626.77 470.27,607.20 473.06,581.76 475.85,560.23 478.64,544.58 481.43,538.71 484.22,544.58 487.01,556.32 489.80,566.11 492.59,573.93 495.38,575.89 498.17,571.98 500.96,570.02 503.75,573.93 506.54,579.80 509.33,583.72 512.12,584.70 514.91,586.65 517.70,592.52 520.49,603.29 523.28,616.99 526.07,626.77 528.86,630.68 531.65,624.81 534.45,611.12 537.24,595.46 540.03,573.93 542.82,554.36 545.61,542.62 548.40,538.71 551.19,546.54 553.98,558.28 556.77,566.11 559.56,571.98 562.35,574.91 565.14,571.00 567.93,570.02 570.72,571.98 573.51,577.85 576.30,581.76 579.09,584.70 581.88,587.63 584.67,593.50 587.46,601.33 590.25,615.03 593.04,624.81 595.83,630.68 598.63,631.66 601.42,628.73 604.21,609.16 607.00,581.76 609.79,562.19 612.58,547.51 615.37,542.62 618.16,546.54 620.95,558.28 623.74,566.55 626.53,572.59 629.32,576.62 632.11,572.59 634.90,571.59 637.69,573.60 640.48,576.62 643.27,583.66 646.06,586.68 648.85,589.70 651.64,592.72 654.43,600.77 657.22,610.84 660.01,620.90 662.81,628.95 665.60,631.97" fill="none" stroke="#1a1a90" stroke-width="1.2" stroke-dasharray="4.25 1.85" stroke-linejoin="round"/></g><rect x="387.40" y="477.6" width="291.50" height="191.79999999999995" class="sp"/><line x1="400.50" y1="669.4" x2="400.50" y2="672.1999999999999" class="tk"/><g font-size="12.0" fill="#000" stroke="#000" stroke-width="0.12"><text transform="translate(391.74 683.70) scale(1.001 1)">0</text><text transform="translate(402.51 683.70) scale(1.031 1)">h</text></g><line x1="456.31" y1="669.4" x2="456.31" y2="672.1999999999999" class="tk"/><g font-size="12.0" fill="#000" stroke="#000" stroke-width="0.12"><text transform="translate(443.89 683.70) scale(0.965 1)">2</text><text transform="translate(451.17 683.70) scale(1.001 1)">0</text><text transform="translate(461.94 683.70) scale(1.031 1)">h</text></g><line x1="512.12" y1="669.4" x2="512.12" y2="672.1999999999999" class="tk"/><g font-size="12.0" fill="#000" stroke="#000" stroke-width="0.12"><text transform="translate(499.73 683.70) scale(1.002 1)">4</text><text transform="translate(506.98 683.70) scale(1.001 1)">0</text><text transform="translate(517.75 683.70) scale(1.031 1)">h</text></g><line x1="567.93" y1="669.4" x2="567.93" y2="672.1999999999999" class="tk"/><g font-size="12.0" fill="#000" stroke="#000" stroke-width="0.12"><text transform="translate(555.42 683.70) scale(1.036 1)">6</text><text transform="translate(562.79 683.70) scale(1.001 1)">0</text><text transform="translate(573.56 683.70) scale(1.031 1)">h</text></g><line x1="623.74" y1="669.4" x2="623.74" y2="672.1999999999999" class="tk"/><g font-size="12.0" fill="#000" stroke="#000" stroke-width="0.12"><text transform="translate(611.31 683.70) scale(1.012 1)">8</text><text transform="translate(618.60 683.70) scale(1.001 1)">0</text><text transform="translate(629.37 683.70) scale(1.031 1)">h</text></g><line x1="384.45" y1="496.90" x2="387.25" y2="496.90" class="tk"/><g font-size="12.0" fill="#000" stroke="#000" stroke-width="0.12"><text transform="translate(363.10 501.00) scale(0.956 1)">1</text><text transform="translate(370.07 501.00) scale(1.028 1)">.</text><text transform="translate(374.02 501.00) scale(0.945 1)">5</text></g><line x1="384.45" y1="536.95" x2="387.25" y2="536.95" class="tk"/><g font-size="12.0" fill="#000" stroke="#000" stroke-width="0.12"><text transform="translate(363.10 541.05) scale(0.956 1)">1</text><text transform="translate(370.07 541.05) scale(1.028 1)">.</text><text transform="translate(373.88 541.05) scale(1.001 1)">0</text></g><line x1="384.45" y1="577.00" x2="387.25" y2="577.00" class="tk"/><g font-size="12.0" fill="#000" stroke="#000" stroke-width="0.12"><text transform="translate(363.00 581.10) scale(1.001 1)">0</text><text transform="translate(370.07 581.10) scale(1.028 1)">.</text><text transform="translate(374.02 581.10) scale(0.945 1)">5</text></g><line x1="384.45" y1="617.05" x2="387.25" y2="617.05" class="tk"/><g font-size="12.0" fill="#000" stroke="#000" stroke-width="0.12"><text transform="translate(363.00 621.15) scale(1.001 1)">0</text><text transform="translate(370.07 621.15) scale(1.028 1)">.</text><text transform="translate(373.88 621.15) scale(1.001 1)">0</text></g><line x1="384.45" y1="657.10" x2="387.25" y2="657.10" class="tk"/><g font-size="12.0" fill="#000" stroke="#000" stroke-width="0.12"><text transform="translate(363.00 661.20) scale(1.001 1)">0</text><text transform="translate(370.07 661.20) scale(1.028 1)">.</text><text transform="translate(374.02 661.20) scale(0.945 1)">5</text><rect x="354.38" y="657.18" width="7.14" height="0.9"/></g><g font-size="11.95" fill="#000" stroke="#000" stroke-width="0.12"><text transform="translate(518.62 472.60) scale(0.936 1)">H</text><text transform="translate(527.02 472.60) scale(0.925 1)">U</text><text transform="translate(535.28 472.60) scale(0.969 1)">L</text><text transform="translate(541.55 472.60) scale(0.969 1)">L</text></g><line x1="49.50" y1="707.7" x2="49.50" y2="899.6" class="gr"/><line x1="105.50" y1="707.7" x2="105.50" y2="899.6" class="gr"/><line x1="161.50" y1="707.7" x2="161.50" y2="899.6" class="gr"/><line x1="217.50" y1="707.7" x2="217.50" y2="899.6" class="gr"/><line x1="273.50" y1="707.7" x2="273.50" y2="899.6" class="gr"/><line x1="36.2" y1="723.40" x2="328.8" y2="723.40" class="gr"/><line x1="36.2" y1="760.10" x2="328.8" y2="760.10" class="gr"/><line x1="36.2" y1="796.80" x2="328.8" y2="796.80" class="gr"/><line x1="36.2" y1="833.50" x2="328.8" y2="833.50" class="gr"/><line x1="36.2" y1="870.20" x2="328.8" y2="870.20" class="gr"/><g clip-path="url(#c6)"><polyline points="49.50,732.56 52.30,748.56 55.10,780.55 57.90,814.06 60.70,779.02 63.50,818.63 66.30,826.24 69.10,792.73 71.90,785.12 74.70,769.88 77.50,750.08 80.30,751.60 83.10,754.65 85.90,756.17 88.70,748.56 91.50,742.46 94.30,736.37 97.10,732.56 99.90,735.61 102.70,735.61 105.50,736.06 108.30,742.54 111.10,737.91 113.90,734.21 116.70,717.55 119.50,736.06 122.30,767.52 125.10,795.29 127.90,790.66 130.70,875.80 133.50,791.59 136.30,797.14 139.10,780.48 141.90,758.27 144.70,751.79 147.50,746.24 150.30,751.79 153.10,755.49 155.90,749.02 158.70,749.02 161.50,736.37 164.30,724.19 167.10,724.95 169.90,728.76 172.70,734.85 175.50,737.13 178.30,726.47 181.10,727.23 183.90,716.57 186.70,747.03 189.50,768.36 192.30,775.98 195.10,783.59 197.90,811.01 200.70,838.43 203.50,788.16 206.30,775.98 209.10,759.22 211.90,750.08 214.70,744.75 217.50,748.23 220.30,754.27 223.10,761.32 225.90,758.30 228.70,754.27 231.50,738.17 234.30,743.20 237.10,741.19 239.90,739.17 242.70,740.18 245.50,742.19 248.30,743.20 251.10,744.21 253.90,778.43 256.70,832.77 259.50,856.93 262.30,864.98 265.10,890.14 267.90,888.13 270.70,822.71 273.50,796.54 276.30,772.94 279.10,753.35 281.90,753.13 284.70,755.53 287.50,758.79 290.30,761.51 293.10,763.14 295.90,746.82 298.70,743.56 301.50,741.16 304.30,746.82 307.10,753.89 309.90,752.26 312.70,752.04 315.50,749.54" fill="none" stroke="#d22228" stroke-width="1.2" stroke-linejoin="round"/><polyline points="49.50,747.03 52.30,760.74 55.10,782.07 57.90,806.44 60.70,821.67 63.50,829.29 66.30,827.77 69.10,809.49 71.90,789.68 74.70,769.88 77.50,756.17 80.30,753.13 83.10,756.17 85.90,758.46 88.70,754.65 91.50,751.60 94.30,747.80 97.10,745.51 99.90,743.23 102.70,744.75 105.50,745.31 108.30,743.46 111.10,739.76 113.90,740.69 116.70,745.31 119.50,760.12 122.30,780.48 125.10,800.84 127.90,819.35 130.70,828.60 133.50,824.90 136.30,806.39 139.10,782.33 141.90,763.82 144.70,755.49 147.50,751.79 150.30,754.57 153.10,757.35 155.90,758.27 158.70,754.57 161.50,748.56 164.30,745.51 167.10,747.03 169.90,749.32 172.70,748.56 175.50,745.51 178.30,741.70 181.10,740.18 183.90,743.99 186.70,759.22 189.50,774.45 192.30,795.78 195.10,818.63 197.90,827.77 200.70,827.77 203.50,809.49 206.30,789.68 209.10,769.88 211.90,756.17 214.70,750.84 217.50,751.25 220.30,754.27 223.10,752.26 225.90,749.24 228.70,746.22 231.50,744.21 234.30,743.20 237.10,744.21 239.90,745.21 242.70,743.20 245.50,742.19 248.30,743.20 251.10,746.22 253.90,760.31 256.70,778.43 259.50,796.54 262.30,812.64 265.10,824.72 267.90,824.72 270.70,810.63 273.50,786.48 276.30,766.41 279.10,752.81 281.90,751.72 284.70,753.89 287.50,756.61 290.30,756.07 293.10,753.89 295.90,748.45 298.70,744.64 301.50,742.25 304.30,744.64 307.10,747.91 309.90,745.73 312.70,742.47 315.50,740.84" fill="none" stroke="#125212" stroke-width="1.2" stroke-dasharray="4.25 1.85" stroke-linejoin="round"/><polyline points="49.50,747.03 52.30,759.22 55.10,782.07 57.90,807.96 60.70,824.72 63.50,829.29 66.30,824.72 69.10,806.44 71.90,785.12 74.70,766.84 77.50,750.84 80.30,752.37 83.10,755.41 85.90,756.17 88.70,748.56 91.50,740.94 94.30,736.37 97.10,733.33 99.90,735.61 102.70,735.61 105.50,736.06 108.30,736.99 111.10,736.06 113.90,735.14 116.70,741.61 119.50,758.27 122.30,780.48 125.10,800.84 127.90,819.35 130.70,828.60 133.50,824.90 136.30,804.54 139.10,780.48 141.90,760.12 144.70,750.87 147.50,747.17 150.30,750.87 153.10,753.64 155.90,749.02 158.70,745.31 161.50,742.46 164.30,737.89 167.10,733.33 169.90,734.85 172.70,736.37 175.50,737.13 178.30,737.89 181.10,737.89 183.90,742.46 186.70,757.70 189.50,775.98 192.30,798.82 195.10,818.63 197.90,829.29 200.70,827.77 203.50,809.49 206.30,788.16 209.10,768.36 211.90,754.65 214.70,750.08 217.50,751.25 220.30,754.27 223.10,750.24 225.90,745.21 228.70,738.17 231.50,734.14 234.30,735.15 237.10,737.16 239.90,736.15 242.70,734.14 245.50,735.15 248.30,738.17 251.10,746.22 253.90,762.32 256.70,784.46 259.50,802.58 262.30,818.68 265.10,826.73 267.90,825.73 270.70,806.61 273.50,778.43 276.30,764.23 279.10,750.63 281.90,748.45 284.70,751.72 287.50,752.26 290.30,750.63 293.10,745.73 295.90,739.20 298.70,734.85 301.50,732.46 304.30,734.31 307.10,735.72 309.90,737.24 312.70,737.24 315.50,736.81" fill="none" stroke="#1a1a90" stroke-width="1.2" stroke-dasharray="4.25 1.85" stroke-linejoin="round"/></g><rect x="36.35" y="707.7" width="292.50" height="191.89999999999998" class="sp"/><line x1="49.50" y1="899.6" x2="49.50" y2="902.4" class="tk"/><g font-size="12.0" fill="#000" stroke="#000" stroke-width="0.12"><text transform="translate(40.73 913.90) scale(1.001 1)">0</text><text transform="translate(51.50 913.90) scale(1.031 1)">h</text></g><line x1="105.50" y1="899.6" x2="105.50" y2="902.4" class="tk"/><g font-size="12.0" fill="#000" stroke="#000" stroke-width="0.12"><text transform="translate(93.07 913.90) scale(0.965 1)">2</text><text transform="translate(100.36 913.90) scale(1.001 1)">0</text><text transform="translate(111.13 913.90) scale(1.031 1)">h</text></g><line x1="161.50" y1="899.6" x2="161.50" y2="902.4" class="tk"/><g font-size="12.0" fill="#000" stroke="#000" stroke-width="0.12"><text transform="translate(149.10 913.90) scale(1.002 1)">4</text><text transform="translate(156.36 913.90) scale(1.001 1)">0</text><text transform="translate(167.13 913.90) scale(1.031 1)">h</text></g><line x1="217.50" y1="899.6" x2="217.50" y2="902.4" class="tk"/><g font-size="12.0" fill="#000" stroke="#000" stroke-width="0.12"><text transform="translate(204.99 913.90) scale(1.036 1)">6</text><text transform="translate(212.36 913.90) scale(1.001 1)">0</text><text transform="translate(223.13 913.90) scale(1.031 1)">h</text></g><line x1="273.50" y1="899.6" x2="273.50" y2="902.4" class="tk"/><g font-size="12.0" fill="#000" stroke="#000" stroke-width="0.12"><text transform="translate(261.07 913.90) scale(1.012 1)">8</text><text transform="translate(268.36 913.90) scale(1.001 1)">0</text><text transform="translate(279.13 913.90) scale(1.031 1)">h</text></g><line x1="33.400000000000006" y1="723.40" x2="36.2" y2="723.40" class="tk"/><g font-size="12.0" fill="#000" stroke="#000" stroke-width="0.12"><text transform="translate(23.63 727.50) scale(0.956 1)">1</text></g><line x1="33.400000000000006" y1="760.10" x2="36.2" y2="760.10" class="tk"/><g font-size="12.0" fill="#000" stroke="#000" stroke-width="0.12"><text transform="translate(23.53 764.20) scale(1.001 1)">0</text></g><line x1="33.400000000000006" y1="796.80" x2="36.2" y2="796.80" class="tk"/><g font-size="12.0" fill="#000" stroke="#000" stroke-width="0.12"><text transform="translate(23.63 800.90) scale(0.956 1)">1</text><rect x="14.90" y="796.88" width="7.14" height="0.9"/></g><line x1="33.400000000000006" y1="833.50" x2="36.2" y2="833.50" class="tk"/><g font-size="12.0" fill="#000" stroke="#000" stroke-width="0.12"><text transform="translate(23.50 837.60) scale(0.965 1)">2</text><rect x="14.90" y="833.58" width="7.14" height="0.9"/></g><line x1="33.400000000000006" y1="870.20" x2="36.2" y2="870.20" class="tk"/><g font-size="12.0" fill="#000" stroke="#000" stroke-width="0.12"><text transform="translate(23.68 874.30) scale(0.962 1)">3</text><rect x="14.90" y="870.28" width="7.14" height="0.9"/></g><g font-size="11.95" fill="#000" stroke="#000" stroke-width="0.12"><text transform="translate(167.97 702.70) scale(0.936 1)">H</text><text transform="translate(176.37 702.70) scale(0.925 1)">U</text><text transform="translate(184.79 702.70) scale(0.807 1)">F</text><text transform="translate(191.10 702.70) scale(0.969 1)">L</text></g><rect x="42.5" y="22.8" width="114.9" height="52.2" rx="2.3" fill="#fff" fill-opacity="0.8" stroke="#d0d0d0" stroke-width="0.8"/><line x1="45.8" y1="31.3" x2="69.8" y2="31.3" stroke="#a82028" stroke-width="1.5"/><g font-size="12.1" fill="#000" stroke="#000" stroke-width="0.12"><text transform="translate(79.18 35.40) scale(0.919 1)">G</text><text transform="translate(88.00 35.40) scale(1.207 1)">r</text><text transform="translate(92.74 35.40) scale(1.002 1)">o</text><text transform="translate(99.77 35.40) scale(1.016 1)">u</text><text transform="translate(107.04 35.40) scale(1.016 1)">n</text><text transform="translate(114.15 35.40) scale(1.024 1)">d</text><text transform="translate(124.98 35.40) scale(1.259 1)">t</text><text transform="translate(129.44 35.40) scale(1.207 1)">r</text><text transform="translate(134.23 35.40) scale(1.016 1)">u</text><text transform="translate(141.36 35.40) scale(1.259 1)">t</text><text transform="translate(145.93 35.40) scale(1.023 1)">h</text></g><line x1="45.8" y1="48.0" x2="69.8" y2="48.0" stroke="#1d561d" stroke-width="1.5" stroke-dasharray="4.25 1.85"/><g font-size="12.1" fill="#000" stroke="#000" stroke-width="0.12"><text transform="translate(79.39 52.10) scale(0.840 1)">S</text><text transform="translate(86.44 52.10) scale(1.018 1)">e</text><text transform="translate(93.46 52.10) scale(1.024 1)">g</text><text transform="translate(100.81 52.10) scale(0.901 1)">R</text><text transform="translate(108.70 52.10) scale(0.931 1)">N</text><text transform="translate(117.23 52.10) scale(0.931 1)">N</text></g><line x1="45.8" y1="65.3" x2="69.8" y2="65.3" stroke="#1c1c80" stroke-width="1.5" stroke-dasharray="4.25 1.85"/><g font-size="12.1" fill="#000" stroke="#000" stroke-width="0.12"><text transform="translate(79.21 69.40) scale(0.931 1)">Q</text><text transform="translate(88.36 69.40) scale(0.840 1)">S</text><text transform="translate(95.42 69.40) scale(1.018 1)">e</text><text transform="translate(102.43 69.40) scale(1.024 1)">g</text><text transform="translate(109.78 69.40) scale(0.901 1)">R</text><text transform="translate(117.68 69.40) scale(0.931 1)">N</text><text transform="translate(126.20 69.40) scale(0.931 1)">N</text></g></g>
</svg>
</body></html>
